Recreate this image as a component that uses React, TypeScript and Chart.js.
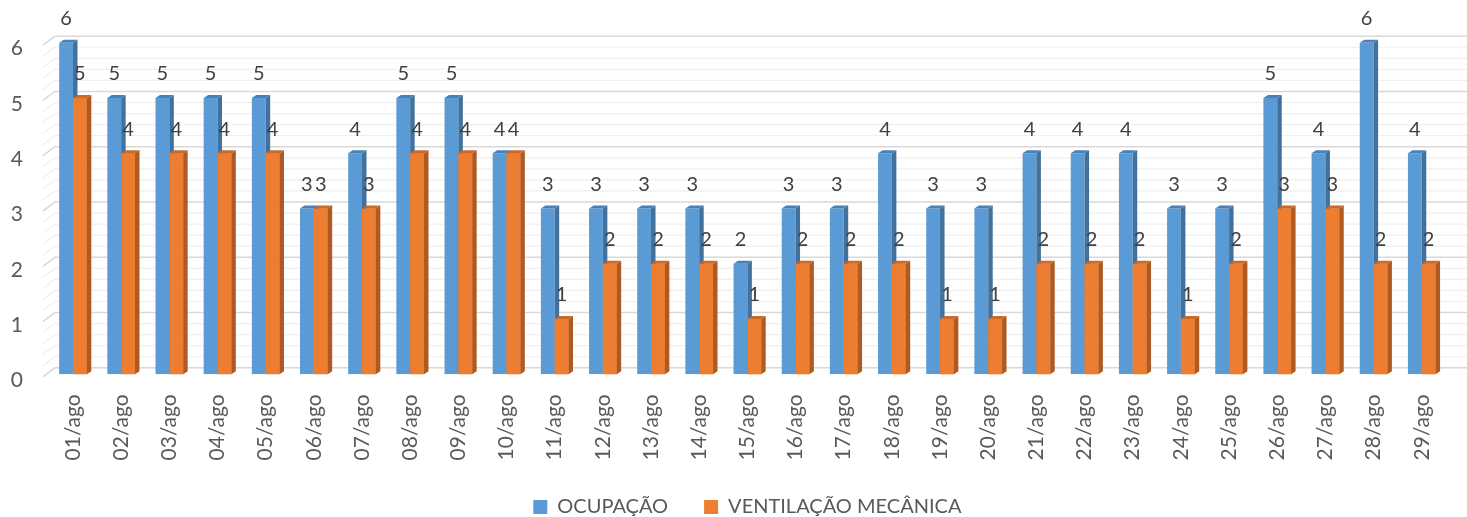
import React, { useEffect, useRef } from "react";
import { Chart, registerables } from "chart.js";

Chart.register(...registerables);

const categories = [
  "01/ago", "02/ago", "03/ago", "04/ago", "05/ago", "06/ago", "07/ago", "08/ago", "09/ago", "10/ago",
  "11/ago", "12/ago", "13/ago", "14/ago", "15/ago", "16/ago", "17/ago", "18/ago", "19/ago", "20/ago",
  "21/ago", "22/ago", "23/ago", "24/ago", "25/ago", "26/ago", "27/ago", "28/ago", "29/ago",
];
const ocupacao = [6, 5, 5, 5, 5, 3, 4, 5, 5, 4, 3, 3, 3, 3, 2, 3, 3, 4, 3, 3, 4, 4, 4, 3, 3, 5, 4, 6, 4];
const ventilacao = [5, 4, 4, 4, 4, 3, 3, 4, 4, 4, 1, 2, 2, 2, 1, 2, 2, 2, 1, 1, 2, 2, 2, 1, 2, 3, 3, 2, 2];
const seriesNames = ["OCUPAÇÃO", "VENTILAÇÃO MECÂNICA"];
const yTicks = [0, 1, 2, 3, 4, 5, 6];

const FONT = "Lato, 'Noto Sans', sans-serif";
const FRONT = ["#5B9BD5", "#ED7D31"];
const SIDE = ["#41719C", "#AE5A21"];
const TOP = ["#4A80B8", "#C9692A"];

const gridPlugin = {
  id: "wallGrid",
  beforeDatasetsDraw(chart: any) {
    const { ctx, chartArea, scales } = chart;
    const ys = scales.y;
    const left = chartArea.left;
    ctx.save();
    for (let i = 0; i <= 30; i++) {
      const v = i * 0.2;
      const y = ys.getPixelForValue(v);
      const major = i % 5 === 0;
      ctx.strokeStyle = major ? "#d9d9d9" : "#efefef";
      ctx.lineWidth = major ? 1.6 : 1.2;
      ctx.beginPath();
      ctx.moveTo(left - 6, y + 2.5);
      ctx.lineTo(left + 6, y - 6.5);
      ctx.lineTo(chart.width, y - 6.5);
      ctx.stroke();
    }
    ctx.restore();
  },
};

function drawDepth(ctx: any, bar: any, idx: number) {
  const dx = 4.5;
  const dy = 3;
  const x1 = bar.x - bar.width / 2;
  const x2 = bar.x + bar.width / 2;
  const top = bar.y;
  const base = bar.base;
  ctx.fillStyle = SIDE[idx];
  ctx.beginPath();
  ctx.moveTo(x2, top);
  ctx.lineTo(x2 + dx, top - dy);
  ctx.lineTo(x2 + dx, base - dy);
  ctx.lineTo(x2, base);
  ctx.closePath();
  ctx.fill();
  ctx.fillStyle = TOP[idx];
  ctx.beginPath();
  ctx.moveTo(x1, top);
  ctx.lineTo(x1 + dx, top - dy);
  ctx.lineTo(x2 + dx, top - dy);
  ctx.lineTo(x2, top);
  ctx.closePath();
  ctx.fill();
}

const depthPlugin = {
  id: "barDepth",
  afterDatasetsDraw(chart: any) {
    const { ctx } = chart;
    ctx.save();
    const m0 = chart.getDatasetMeta(0);
    const m1 = chart.getDatasetMeta(1);
    m0.data.forEach((bar: any) => drawDepth(ctx, bar, 0));
    m1.data.forEach((bar: any) => {
      bar.draw(ctx);
      drawDepth(ctx, bar, 1);
    });
    ctx.restore();
  },
};

const labelPlugin = {
  id: "valueLabels",
  afterDatasetsDraw(chart: any) {
    const { ctx } = chart;
    ctx.save();
    ctx.font = `20px ${FONT}`;
    ctx.fillStyle = "#404040";
    ctx.textAlign = "center";
    ctx.textBaseline = "middle";
    chart.data.datasets.forEach((ds: any, di: number) => {
      const meta = chart.getDatasetMeta(di);
      meta.data.forEach((bar: any, i: number) => {
        ctx.fillText(String(ds.data[i]), bar.x, bar.y - 24);
      });
    });
    ctx.restore();
  },
};

export default function App() {
  const canvasRef = useRef<HTMLCanvasElement>(null);

  useEffect(() => {
    if (!canvasRef.current) return;
    const chart = new Chart(canvasRef.current, {
      type: "bar",
      data: {
        labels: categories,
        datasets: [
          {
            label: seriesNames[0],
            data: ocupacao,
            backgroundColor: FRONT[0],
            borderWidth: 0,
          },
          {
            label: seriesNames[1],
            data: ventilacao,
            backgroundColor: FRONT[1],
            borderWidth: 0,
          },
        ],
      },
      options: {
        responsive: false,
        animation: false,
        devicePixelRatio: 1,
        layout: { padding: { top: 42.7, left: 0, right: 2.6, bottom: 0 } },
        datasets: {
          bar: { categoryPercentage: 0.574, barPercentage: 1 },
        },
        scales: {
          x: {
            grid: { display: false, drawTicks: false },
            border: { display: false },
            ticks: {
              autoSkip: false,
              minRotation: 90,
              maxRotation: 90,
              padding: 20,
              color: "#595959",
              font: { family: FONT, size: 21 },
            },
            afterFit(scale: any) {
              scale.height = 86.7;
            },
          },
          y: {
            min: 0,
            max: 6,
            grid: { display: false, drawTicks: false },
            border: { display: false },
            afterBuildTicks(scale: any) {
              scale.ticks = yTicks.map((v) => ({ value: v }));
            },
            ticks: {
              padding: 26,
              labelOffset: 6,
              color: "#595959",
              font: { family: FONT, size: 21 },
            },
            afterFit(scale: any) {
              scale.width = 48.9;
            },
          },
        },
        plugins: {
          legend: {
            position: "bottom",
            fullSize: false,
            maxHeight: 56,
            labels: {
              boxWidth: 14,
              boxHeight: 14,
              padding: 36,
              color: "#595959",
              font: { family: FONT, size: 20 },
            },
          },
          tooltip: { enabled: false },
        },
      },
      plugins: [gridPlugin, depthPlugin, labelPlugin],
    });
    return () => chart.destroy();
  }, []);

  return (
    <div style={{ position: "fixed", left: 0, top: 0, width: 1467, height: 517, background: "#fff" }}>
      <canvas ref={canvasRef} width={1467} height={517} />
    </div>
  );
}
